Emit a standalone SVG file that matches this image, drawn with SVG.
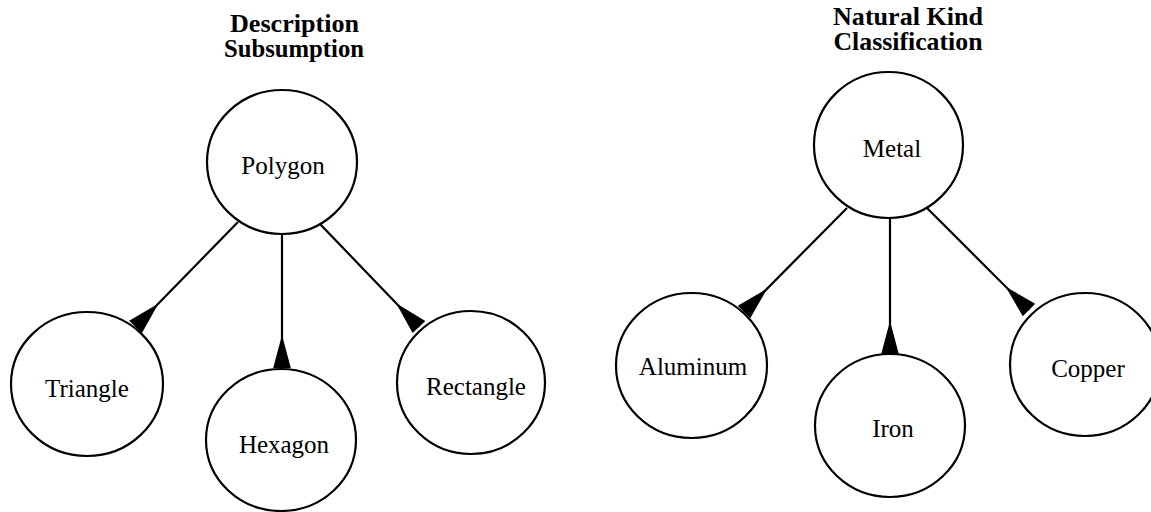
<svg xmlns="http://www.w3.org/2000/svg" width="1151" height="512" viewBox="0 0 1151 512">
<style>
.node{fill:#fff;stroke:#000;stroke-width:2.2}
.lbl{font-family:"Liberation Serif","Times New Roman",serif;font-size:25px;text-anchor:middle;fill:#000}
.ttl{font-family:"Liberation Serif","Times New Roman",serif;font-size:25px;font-weight:bold;text-anchor:middle;fill:#000}
.edge{stroke:#000;stroke-width:2.2;fill:none;marker-end:url(#wedge)}
</style>
<defs>
<marker id="wedge" markerUnits="userSpaceOnUse" viewBox="-33 -9 34 18" refX="0" refY="0" markerWidth="34" markerHeight="18" orient="auto">
<path d="M0,-8.8 L0,8.8 L-33,0 Z" fill="#000"/>
</marker>
</defs>
<g id="titles">
<text class="ttl" x="294.5" y="32" textLength="129" lengthAdjust="spacingAndGlyphs">Description</text>
<text class="ttl" x="294" y="57" textLength="140" lengthAdjust="spacingAndGlyphs">Subsumption</text>
<text class="ttl" x="908" y="25" textLength="150" lengthAdjust="spacingAndGlyphs">Natural Kind</text>
<text class="ttl" x="908" y="50" textLength="149" lengthAdjust="spacingAndGlyphs">Classification</text>
</g>
<g id="connectors">
<line class="edge" x1="238" y1="222" x2="135.5" y2="327"/>
<line class="edge" x1="282" y1="234" x2="282" y2="368"/>
<line class="edge" x1="320" y1="224" x2="419" y2="327"/>
<line class="edge" x1="847" y1="208" x2="744" y2="312"/>
<line class="edge" x1="890" y1="217" x2="890" y2="354"/>
<line class="edge" x1="927" y1="208" x2="1029" y2="310"/>
</g>
<g id="polygon"><ellipse class="node" cx="282" cy="162" rx="75" ry="72"/><text class="lbl" x="283" y="174">Polygon</text></g>
<g id="triangle"><ellipse class="node" cx="87" cy="384" rx="76" ry="72"/><text class="lbl" x="87" y="397">Triangle</text></g>
<g id="hexagon"><ellipse class="node" cx="281" cy="440" rx="75" ry="71"/><text class="lbl" x="284" y="453">Hexagon</text></g>
<g id="rectangle"><ellipse class="node" cx="471" cy="382.5" rx="74" ry="71.5"/><text class="lbl" x="476" y="395">Rectangle</text></g>
<g id="metal"><ellipse class="node" cx="888.5" cy="145" rx="74.5" ry="73"/><text class="lbl" x="892" y="157">Metal</text></g>
<g id="aluminum"><ellipse class="node" cx="691.5" cy="365.5" rx="75.5" ry="72.5"/><text class="lbl" x="693" y="375">Aluminum</text></g>
<g id="iron"><ellipse class="node" cx="890" cy="425.5" rx="75" ry="71.5"/><text class="lbl" x="893" y="437">Iron</text></g>
<g id="copper"><ellipse class="node" cx="1085" cy="364.5" rx="75" ry="71.5"/><text class="lbl" x="1088" y="377">Copper</text></g>
</svg>
